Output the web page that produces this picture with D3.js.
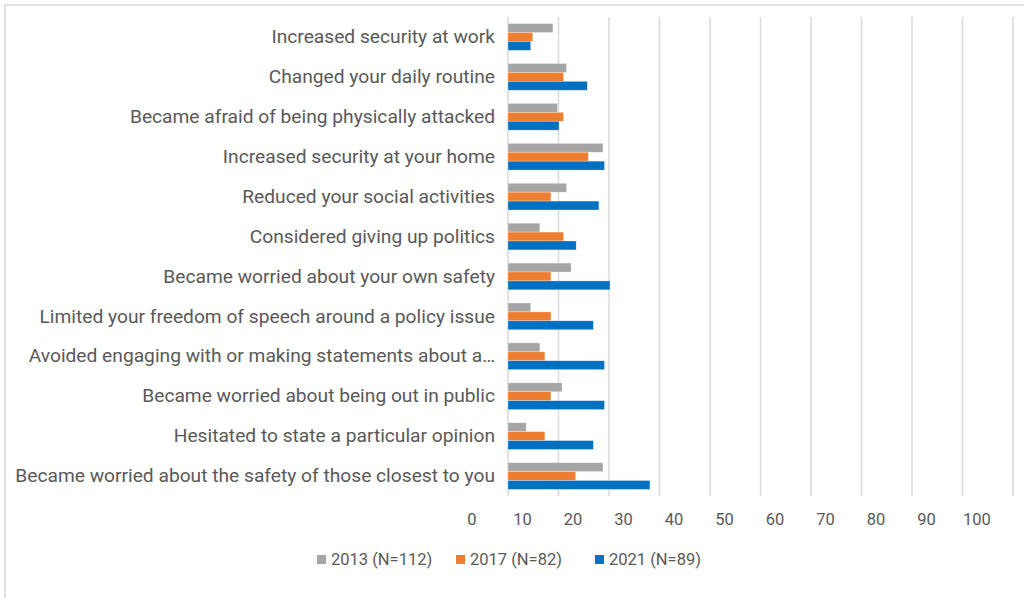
<!DOCTYPE html>
<html>
<head>
<meta charset="utf-8">
<script src="https://cdn.jsdelivr.net/npm/d3@7"></script>
<style>
  body { margin: 0; background: #fff; }
  svg text { font-family: Roboto, "Open Sans", sans-serif; fill: #595959; }
</style>
</head>
<body>
<svg id="chart"></svg>
<script>
// categories, top to bottom
const categories = [
  "Increased security at work",
  "Changed your daily routine",
  "Became afraid of being physically attacked",
  "Increased security at your home",
  "Reduced your social activities",
  "Considered giving up politics",
  "Became worried about your own safety",
  "Limited your freedom of speech around a policy issue",
  "Avoided engaging with or making statements about a…",
  "Became worried about being out in public",
  "Hesitated to state a particular opinion",
  "Became worried about the safety of those closest to you"
];

const seriesNames = ["2013 (N=112)", "2017 (N=82)", "2021 (N=89)"];
const values2013 = [8.9, 11.6, 9.8, 18.8, 11.6, 6.3, 12.5, 4.5, 6.3, 10.7, 3.6, 18.8];
const values2017 = [4.9, 11.0, 11.0, 15.9, 8.5, 11.0, 8.5, 8.5, 7.3, 8.5, 7.3, 13.4];
const values2021 = [4.5, 15.7, 10.1, 19.1, 18.0, 13.5, 20.2, 16.9, 19.1, 19.1, 16.9, 28.1];
const xTicks = [0, 10, 20, 30, 40, 50, 60, 70, 80, 90, 100];

const colors = ["#a5a5a5", "#ed7d31", "#0070c0"];
const seriesValues = [values2013, values2017, values2021];

// chart dimensions
const width = 1024;
const height = 598;
const plotLeft = 508;
const plotRight = 1013;
const plotTop = 17;
const plotBottom = 496;

const svg = d3.select("#chart")
  .attr("width", width)
  .attr("height", height);

// outer chart border (runs off the right and bottom edges)
svg.append("rect")
  .attr("x", 5)
  .attr("y", 5)
  .attr("width", width + 20)
  .attr("height", height + 20)
  .attr("fill", "none")
  .attr("stroke", "#d9d9d9")
  .attr("stroke-width", 1.5);

const x = d3.scaleLinear([0, 100], [plotLeft, plotRight]);

const y = d3.scaleBand(categories, [plotTop, plotBottom])
  .paddingInner(0.33)
  .paddingOuter(0.165);

const ySeries = d3.scaleBand(d3.range(seriesNames.length), [0, y.bandwidth()]);

// vertical gridlines
svg.append("g")
  .selectAll("line")
  .data(xTicks)
  .join("line")
    .attr("x1", d => x(d))
    .attr("x2", d => x(d))
    .attr("y1", plotTop)
    .attr("y2", plotBottom)
    .attr("stroke", "#d9d9d9")
    .attr("stroke-width", 1.5);

// x tick labels (sit left of their gridline, as in the original)
svg.append("g")
  .selectAll("text")
  .data(xTicks)
  .join("text")
    .attr("x", d => x(d) - 36)
    .attr("y", 525)
    .attr("text-anchor", "middle")
    .attr("font-size", "16.5px")
    .text(d => d);

// category labels
svg.append("g")
  .selectAll("text")
  .data(categories)
  .join("text")
    .attr("x", plotLeft - 13)
    .attr("y", d => y(d) + y.bandwidth() / 2)
    .attr("dy", "0.32em")
    .attr("text-anchor", "end")
    .attr("font-size", "19.2px")
    .text(d => d);

// bars
seriesValues.forEach((vals, s) => {
  svg.append("g")
    .selectAll("rect")
    .data(vals)
    .join("rect")
      .attr("x", x(0))
      .attr("y", (d, i) => y(categories[i]) + ySeries(s))
      .attr("width", d => x(d) - x(0))
      .attr("height", ySeries.bandwidth())
      .attr("fill", colors[s])
      .attr("stroke", "#ffffff")
      .attr("stroke-opacity", 0.5)
      .attr("stroke-width", 0.6);
});

// legend
const legendX = [317, 456, 595];
const legend = svg.append("g")
  .selectAll("g")
  .data(seriesNames)
  .join("g")
    .attr("transform", (d, i) => `translate(${legendX[i]},555)`);

legend.append("rect")
  .attr("width", 9)
  .attr("height", 9)
  .attr("fill", (d, i) => colors[i]);

legend.append("text")
  .attr("x", 14)
  .attr("y", 4.5)
  .attr("dy", "0.35em")
  .attr("font-size", "16.5px")
  .text(d => d);
</script>
</body>
</html>
